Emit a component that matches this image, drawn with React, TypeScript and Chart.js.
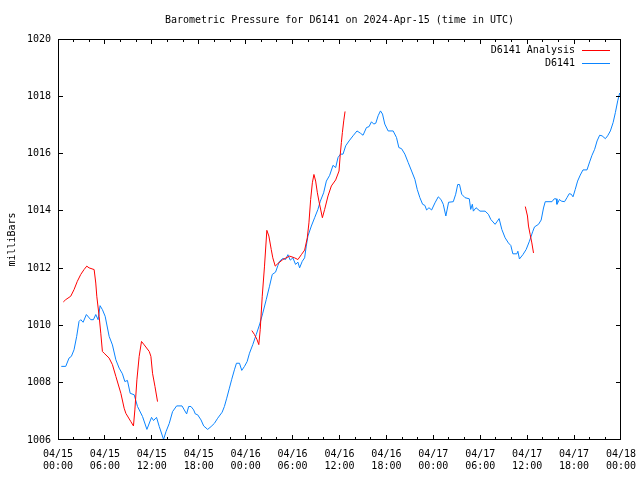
import React, { useEffect, useRef } from 'react';
import { Chart, registerables } from 'chart.js';

Chart.register(...registerables);

// ---- data (hours since 2024-04-15 00:00 UTC, millibars) ----
const blueHours = [
  0.42, 0.99, 1.41, 1.71, 2.05, 2.39, 2.69, 2.91, 3.21, 3.63, 4.19, 4.53, 4.83, 5.13, 5.38, 5.68,
  6.03, 6.54, 6.96, 7.40, 7.82, 8.24, 8.55, 8.88, 9.23, 9.74, 10.17, 10.81, 11.37, 11.96, 12.22,
  12.60, 12.95, 13.50, 13.81, 14.23, 14.65, 15.17, 15.86, 16.15, 16.45, 16.71, 17.01, 17.35, 17.56,
  17.86, 18.29, 18.63, 19.14, 19.58, 20.00, 20.42, 20.99, 21.28, 21.58, 21.92, 22.22, 22.56, 22.82,
  23.21, 23.50, 23.85, 24.19, 24.49, 24.91, 25.35, 25.80, 26.19, 26.63, 27.05, 27.40, 27.82, 28.12,
  28.33, 28.76, 29.10, 29.40, 29.70, 30.04, 30.38, 30.68, 30.90, 31.24, 31.54, 31.75, 31.96, 32.40,
  32.82, 33.24, 33.55, 33.97, 34.32, 34.74, 35.17, 35.51, 35.81, 36.12, 36.45, 36.79, 37.22, 37.73,
  38.24, 38.68, 39.01, 39.45, 39.78, 40.09, 40.38, 40.64, 40.94, 41.24, 41.50, 41.79, 42.22, 42.86,
  43.29, 43.59, 43.94, 44.36, 44.78, 45.22, 45.64, 45.94, 46.28, 46.63, 46.92, 47.14, 47.44, 47.78,
  48.21, 48.63, 48.97, 49.27, 49.60, 49.95, 50.55, 50.86, 51.12, 51.35, 51.63, 52.05, 52.60, 52.78,
  52.99, 53.12, 53.46, 53.97, 54.62, 55.04, 55.35, 55.90, 56.19, 56.41, 56.76, 57.18, 57.60, 57.91,
  58.17, 58.68, 58.81, 59.01, 59.45, 59.87, 60.29, 60.73, 60.94, 61.45, 61.79, 62.09, 62.31, 63.17,
  63.46, 63.72, 63.81, 64.14, 64.36, 64.78, 65.09, 65.38, 65.64, 65.86, 66.15, 66.45, 66.79, 67.14,
  67.65, 67.99, 68.29, 68.63, 68.94, 69.27, 69.58, 70.00, 70.29, 70.64, 70.99, 71.28, 71.58, 71.83,
  72.00,
];
const blueValues = [
  1008.57, 1008.57, 1008.86, 1008.92, 1009.15, 1009.62, 1010.14, 1010.20, 1010.11, 1010.38, 1010.20,
  1010.20, 1010.38, 1010.20, 1010.69, 1010.55, 1010.32, 1009.62, 1009.32, 1008.80, 1008.51, 1008.31,
  1008.04, 1008.08, 1007.63, 1007.58, 1007.17, 1006.82, 1006.37, 1006.79, 1006.68, 1006.79, 1006.47,
  1006.02, 1006.29, 1006.58, 1006.99, 1007.19, 1007.19, 1007.05, 1006.91, 1007.17, 1007.17, 1007.05,
  1006.91, 1006.88, 1006.70, 1006.49, 1006.37, 1006.47, 1006.58, 1006.76, 1006.97, 1007.17, 1007.46,
  1007.81, 1008.12, 1008.45, 1008.68, 1008.68, 1008.43, 1008.57, 1008.74, 1009.03, 1009.33, 1009.68,
  1010.05, 1010.43, 1010.90, 1011.37, 1011.78, 1011.86, 1012.09, 1012.24, 1012.34, 1012.30, 1012.47,
  1012.28, 1012.36, 1012.13, 1012.21, 1012.01, 1012.24, 1012.36, 1012.77, 1013.12, 1013.47, 1013.76,
  1014.05, 1014.34, 1014.63, 1015.04, 1015.24, 1015.59, 1015.51, 1015.86, 1015.98, 1015.98, 1016.27,
  1016.44, 1016.62, 1016.79, 1016.71, 1016.64, 1016.91, 1016.94, 1017.11, 1017.03, 1017.06, 1017.32,
  1017.49, 1017.38, 1017.03, 1016.79, 1016.79, 1016.56, 1016.21, 1016.17, 1015.98, 1015.69, 1015.39,
  1015.10, 1014.75, 1014.46, 1014.23, 1014.19, 1014.03, 1014.11, 1014.03, 1014.28, 1014.49, 1014.40,
  1014.23, 1013.82, 1014.30, 1014.32, 1014.58, 1014.92, 1014.92, 1014.58, 1014.46, 1014.42, 1014.05,
  1014.23, 1013.99, 1014.11, 1013.99, 1013.99, 1013.88, 1013.70, 1013.53, 1013.64, 1013.73, 1013.35,
  1013.06, 1012.88, 1012.79, 1012.50, 1012.50, 1012.59, 1012.32, 1012.47, 1012.65, 1012.94, 1013.29,
  1013.44, 1013.53, 1013.68, 1014.10, 1014.32, 1014.32, 1014.42, 1014.42, 1014.23, 1014.40, 1014.34,
  1014.32, 1014.46, 1014.60, 1014.58, 1014.49, 1014.75, 1015.04, 1015.25, 1015.43, 1015.43, 1015.71,
  1015.94, 1016.15, 1016.44, 1016.64, 1016.62, 1016.52, 1016.62, 1016.79, 1017.08, 1017.43, 1017.84,
  1018.11, 1018.05,
];

const redHours1 = [
  0.68, 0.99, 1.63, 2.05, 2.47, 2.91, 3.33, 3.68, 3.97, 4.62, 4.83, 4.96, 5.26, 5.47, 5.68, 5.90,
  6.54, 6.96, 7.40, 8.04, 8.46, 8.68, 9.32, 9.65, 9.83, 10.09, 10.38, 10.68, 11.03, 11.67, 11.88,
  12.09, 12.40, 12.73,
];
const redValues1 = [
  1010.82, 1010.90, 1011.02, 1011.25, 1011.54, 1011.78, 1011.95, 1012.07, 1012.01, 1011.95, 1011.48,
  1011.02, 1010.32, 1009.73, 1009.09, 1009.03, 1008.86, 1008.63, 1008.22, 1007.63, 1007.11, 1006.93,
  1006.64, 1006.49, 1007.05, 1008.10, 1008.92, 1009.44, 1009.32, 1009.09, 1008.92, 1008.33, 1007.87,
  1007.34,
];
const redHours2 = [
  24.79, 25.13, 25.43, 25.68, 25.86, 26.12, 26.41, 26.71, 26.97, 27.27, 27.47, 27.78, 28.12, 28.76,
  29.62, 30.26, 30.68, 31.12, 31.54, 31.88, 32.09, 32.31, 32.53, 32.73, 32.95, 33.17, 33.37, 33.81,
  34.10, 34.53, 34.96, 35.51, 35.94, 36.10, 36.24, 36.37, 36.54, 36.71,
];
const redValues2 = [
  1009.82, 1009.68, 1009.52, 1009.33, 1009.85, 1011.02, 1012.07, 1013.32, 1013.12, 1012.65, 1012.36,
  1012.07, 1012.16, 1012.30, 1012.42, 1012.36, 1012.30, 1012.47, 1012.63, 1013.06, 1013.58, 1014.40,
  1014.98, 1015.27, 1015.04, 1014.63, 1014.34, 1013.76, 1014.05, 1014.52, 1014.87, 1015.08, 1015.39,
  1015.98, 1016.39, 1016.74, 1017.14, 1017.47,
];
const redHours3 = [59.76, 60.04, 60.17, 60.38, 60.60, 60.81];
const redValues3 = [1014.15, 1013.82, 1013.47, 1013.18, 1012.88, 1012.53];

const xTickDates = ['04/15', '04/15', '04/15', '04/15', '04/16', '04/16', '04/16', '04/16', '04/17', '04/17', '04/17', '04/17', '04/18'];
const xTickTimes = ['00:00', '06:00', '12:00', '18:00', '00:00', '06:00', '12:00', '18:00', '00:00', '06:00', '12:00', '18:00', '00:00'];

const titleText = 'Barometric Pressure for D6141 on 2024-Apr-15 (time in UTC)';
const yAxisTitle = 'milliBars';
const seriesNames = ['D6141 Analysis', 'D6141'];

const FONT_FAMILY = '"DejaVu Sans Mono", "Liberation Mono", monospace';
const RED = '#ff0000';
const BLUE = '#0a84ff';

export default function App() {
  const ref = useRef<HTMLCanvasElement>(null);

  useEffect(() => {
    if (!ref.current) return;
    const toPts = (xs: number[], ys: number[]) => xs.map((x, i) => ({ x, y: ys[i] }));
    const blue = toPts(blueHours, blueValues);
    const red: any[] = [
      ...toPts(redHours1, redValues1),
      { x: 18, y: null },
      ...toPts(redHours2, redValues2),
      { x: 48, y: null },
      ...toPts(redHours3, redValues3),
    ];

    const framePlugin = {
      id: 'frame',
      afterDraw(chart: any) {
        const { ctx, chartArea: a, scales } = chart;
        ctx.save();
        ctx.strokeStyle = '#000';
        ctx.lineWidth = 1;
        ctx.beginPath();
        ctx.rect(a.left + 0.5, a.top + 0.5, a.right - a.left - 1, a.bottom - a.top - 1);
        ctx.stroke();
        // x ticks (inward, top & bottom)
        ctx.beginPath();
        for (const t of scales.x.ticks) {
          const v = t.value;
          let px = Math.floor(scales.x.getPixelForValue(v));
          px = Math.min(Math.max(px, a.left), a.right - 1) + 0.5;
          const len = v % 6 === 0 ? 5 : 3;
          ctx.moveTo(px, a.bottom);
          ctx.lineTo(px, a.bottom - len);
          ctx.moveTo(px, a.top);
          ctx.lineTo(px, a.top + len);
        }
        // y ticks (inward, left & right)
        for (const t of scales.y.ticks) {
          let py = Math.floor(scales.y.getPixelForValue(t.value));
          py = Math.min(Math.max(py, a.top), a.bottom - 1) + 0.5;
          ctx.moveTo(a.left, py);
          ctx.lineTo(a.left + 5, py);
          ctx.moveTo(a.right, py);
          ctx.lineTo(a.right - 5, py);
        }
        ctx.stroke();

        ctx.fillStyle = '#000';
        ctx.font = `10px ${FONT_FAMILY}`;
        // title
        ctx.textAlign = 'center';
        ctx.textBaseline = 'middle';
        ctx.fillText(titleText, (a.left + a.right) / 2, 20);
        // y axis title
        ctx.save();
        ctx.translate(12, (a.top + a.bottom) / 2);
        ctx.rotate(-Math.PI / 2);
        ctx.fillText(yAxisTitle, 0, 0);
        ctx.restore();
        // legend
        const colors = [RED, BLUE];
        const legendRows = [50, 63];
        seriesNames.forEach((name, i) => {
          const y = legendRows[i];
          ctx.textAlign = 'right';
          ctx.fillStyle = '#000';
          ctx.fillText(name, 575, y);
          ctx.strokeStyle = colors[i];
          ctx.beginPath();
          ctx.moveTo(582, y + 0.5);
          ctx.lineTo(610, y + 0.5);
          ctx.stroke();
        });
        ctx.restore();
      },
    };

    const chart = new Chart(ref.current, {
      type: 'line',
      data: {
        datasets: [
          {
            label: seriesNames[0],
            data: red,
            borderColor: RED,
            borderWidth: 1,
            pointRadius: 0,
            tension: 0,
            spanGaps: false,
          },
          {
            label: seriesNames[1],
            data: blue,
            borderColor: BLUE,
            borderWidth: 1,
            pointRadius: 0,
            tension: 0,
          },
        ],
      },
      options: {
        responsive: false,
        animation: false,
        events: [],
        layout: { padding: { top: 39, right: 19, left: 0, bottom: 0 } },
        plugins: {
          legend: { display: false },
          title: { display: false },
          tooltip: { enabled: false },
        },
        scales: {
          x: {
            type: 'linear',
            min: 0,
            max: 72,
            border: { display: false },
            grid: { display: false, drawTicks: false },
            ticks: {
              stepSize: 2,
              autoSkip: false,
              maxRotation: 0,
              padding: 9,
              color: '#000',
              font: { family: FONT_FAMILY, size: 10, lineHeight: 1.15 },
              callback: (v: any) => {
                const n = Number(v);
                if (n % 6 !== 0) return '';
                const i = n / 6;
                return [xTickDates[i], xTickTimes[i]];
              },
            },
            afterFit: (s: any) => {
              s.height = 40;
              s.paddingLeft = 0;
              s.paddingRight = 0;
            },
          },
          y: {
            min: 1006,
            max: 1020,
            border: { display: false },
            grid: { display: false, drawTicks: false },
            ticks: {
              stepSize: 2,
              padding: 7,
              color: '#000',
              font: { family: FONT_FAMILY, size: 10 },
              callback: (v: any) => String(v),
            },
            afterFit: (s: any) => {
              s.width = 58;
              s.paddingTop = 0;
              s.paddingBottom = 0;
            },
          },
        },
      },
      plugins: [framePlugin],
    });
    return () => chart.destroy();
  }, []);

  return (
    <div style={{ position: 'absolute', left: 0, top: 0, width: 640, height: 480, background: '#fff' }}>
      <canvas ref={ref} width={640} height={480} style={{ display: 'block' }} />
    </div>
  );
}
